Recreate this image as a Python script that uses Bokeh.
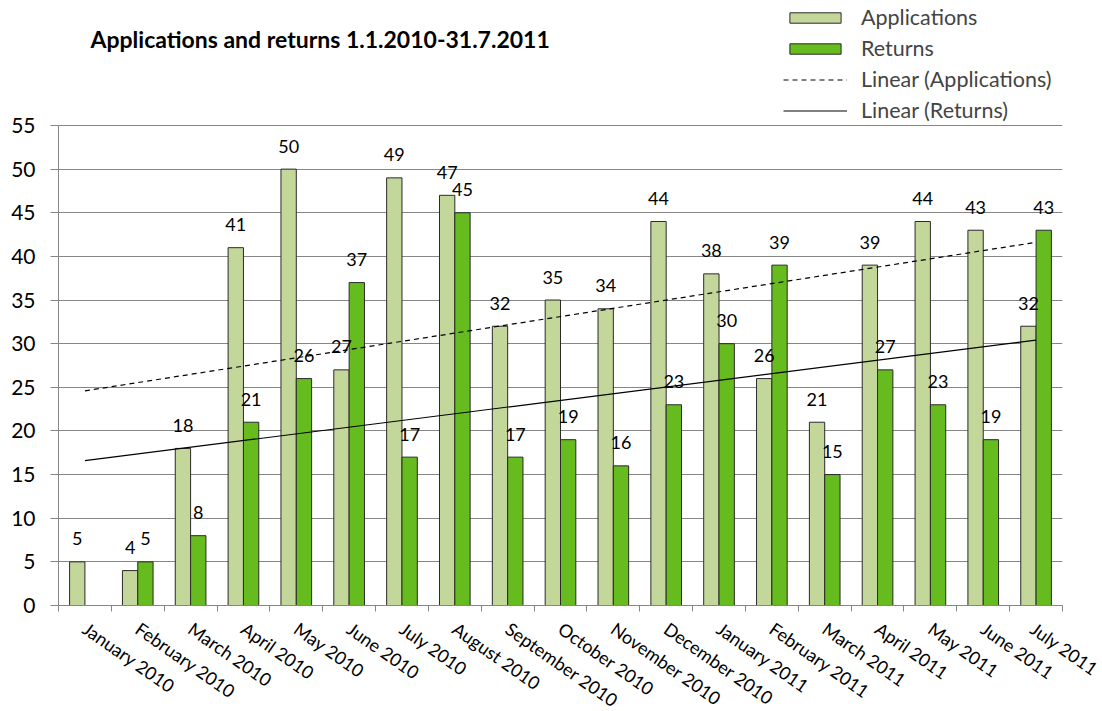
import numpy as np
from bokeh.plotting import figure
from bokeh.models import Range1d, FixedTicker, Legend, LegendItem, Label, ColumnDataSource
from bokeh.core.properties import value
from bokeh.embed import file_html
from bokeh.resources import INLINE

# ---------------- data ----------------
months = ["January 2010", "February 2010", "March 2010", "April 2010", "May 2010",
          "June 2010", "July 2010", "August 2010", "September 2010", "October 2010",
          "November 2010", "December 2010", "January 2011", "February 2011",
          "March 2011", "April  2011", "May 2011", "June 2011", "July 2011"]
applications = [5, 4, 18, 41, 50, 27, 49, 47, 32, 35, 34, 44, 38, 26, 21, 39, 44, 43, 32]
returns = [None, 5, 8, 21, 26, 37, 17, 45, 17, 19, 16, 23, 30, 39, 15, 27, 23, 19, 43]
y_ticks = [0, 5, 10, 15, 20, 25, 30, 35, 40, 45, 50, 55]
title_text = "Applications and returns 1.1.2010-31.7.2011"
series_names = ["Applications", "Returns", "Linear (Applications)", "Linear (Returns)"]

# ---------------- styling ----------------
FONT = "Lato"
APP_COLOR = "#C4D79B"
RET_COLOR = "#66BB1E"
EDGE = "#2a2a2a"
GRID = "#868686"
FRAME_W, FRAME_H = 1004, 605
AXIS_PX = 480                      # pixel height from 0 to the top tick
BAR_W = 0.29

n = len(months)
x = np.arange(1, n + 1, dtype=float)
app = np.array(applications, dtype=float)
ret = np.array([np.nan if v is None else v for v in returns], dtype=float)
ymax = y_ticks[-1]
ytop = ymax * FRAME_H / AXIS_PX

src = ColumnDataSource(dict(
    app_x=x - BAR_W / 2, ret_x=x + BAR_W / 2, app=app, ret=ret,
    app_lbl=[str(v) for v in applications],
    ret_lbl=["" if v is None else str(v) for v in returns],
))

p = figure(frame_width=FRAME_W, frame_height=FRAME_H,
           x_range=Range1d(0.5, n + 0.5), y_range=Range1d(0, ytop),
           output_backend="svg", toolbar_location=None,
           min_border_left=58, min_border_right=40, min_border_top=0, min_border_bottom=106)
p.outline_line_color = None
p.background_fill_color = "white"

# grid
p.xgrid.visible = False
p.ygrid.ticker = FixedTicker(ticks=y_ticks)
p.ygrid.grid_line_color = GRID
p.ygrid.grid_line_width = 1

# y axis
ya = p.yaxis[0]
ya.ticker = FixedTicker(ticks=y_ticks)
ya.bounds = (0, ymax)
ya.axis_line_color = GRID
ya.major_tick_line_color = GRID
ya.major_tick_out = 8
ya.major_tick_in = 0
ya.minor_tick_line_color = None
ya.major_label_text_font = FONT
ya.major_label_text_font_size = "21px"
ya.major_label_text_color = "black"
ya.major_label_standoff = 15

# x axis
xa = p.xaxis[0]
xa.ticker = FixedTicker(ticks=list(x), minor_ticks=list(np.arange(0.5, n + 1, 1.0)))
xa.major_label_overrides = {int(i): m for i, m in zip(x, months)}
xa.axis_line_color = GRID
xa.major_tick_line_color = None
xa.major_tick_out = 0
xa.major_tick_in = 0
xa.minor_tick_line_color = GRID
xa.minor_tick_out = 6
xa.minor_tick_in = 0
xa.major_label_orientation = -0.61
xa.major_label_text_font = FONT
xa.major_label_text_font_size = "18px"
xa.major_label_text_color = "black"
xa.major_label_standoff = 15

# bars
r_app = p.vbar(x="app_x", top="app", width=BAR_W, bottom=0, source=src,
               fill_color=APP_COLOR, line_color=EDGE, line_width=1)
r_ret = p.vbar(x="ret_x", top="ret", width=BAR_W, bottom=0, source=src,
               fill_color=RET_COLOR, line_color=EDGE, line_width=1)

# data labels
for col_x, col_y, col_t in (("app_x", "app", "app_lbl"), ("ret_x", "ret", "ret_lbl")):
    p.text(x=col_x, y=col_y, text=col_t, source=src, y_offset=-23,
           text_align="center", text_baseline="middle",
           text_font=value(FONT), text_font_size="18px", text_color="black")

# linear trend lines (least squares on the plotted values)
def trend(vals):
    m = ~np.isnan(vals)
    k, b = np.polyfit(x[m], vals[m], 1)
    xs = np.array([x[0], x[-1]])
    return xs, k * xs + b

tx, ty = trend(app)
r_tapp = p.line(tx, ty, line_color="black", line_width=1.2, line_dash="5 4")
tx, ty = trend(ret)
r_tret = p.line(tx, ty, line_color="black", line_width=1.2)

# legend
legend = Legend(items=[LegendItem(label=series_names[0], renderers=[r_app]),
                       LegendItem(label=series_names[1], renderers=[r_ret]),
                       LegendItem(label=series_names[2], renderers=[r_tapp]),
                       LegendItem(label=series_names[3], renderers=[r_tret])],
                location=(725, 482), orientation="vertical",
                glyph_width=64, glyph_height=13, label_standoff=14,
                label_text_font=FONT, label_text_font_size="21.5px",
                label_height=24, spacing=5, padding=0, margin=0,
                border_line_color=None, background_fill_alpha=0)
p.add_layout(legend)

# chart title
p.add_layout(Label(x=1.106, y=ytop * (FRAME_H - 38) / FRAME_H, text=title_text,
                   text_align="left", text_baseline="middle",
                   text_font=FONT, text_font_style="bold", text_font_size="23px",
                   text_color="black"))

open("out.html", "w").write(file_html(p, INLINE))
